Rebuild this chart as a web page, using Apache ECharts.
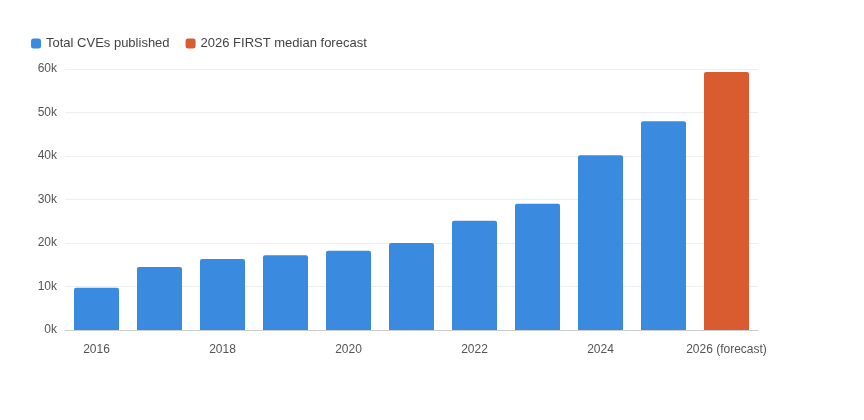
<!DOCTYPE html>
<html><head><meta charset="utf-8">
<script src="https://cdn.jsdelivr.net/npm/echarts@6/dist/echarts.min.js"></script>
<style>html,body{margin:0;padding:0;background:#fff}#c{width:864px;height:420px}</style>
</head><body><div id="c"></div>
<script>
const categories = ['2016','2017','2018','2019','2020','2021','2022','2023','2024','2025','2026 (forecast)'];
const totalCVEs = [9700,14500,16300,17200,18200,20000,25100,29000,40200,48000,null];
const forecast = [null,null,null,null,null,null,null,null,null,null,59300];
const chart = echarts.init(document.getElementById('c'));
chart.setOption({
  animation:false,
  textStyle:{fontFamily:'Liberation Sans, Arial, sans-serif'},
  legend:{left:26,top:32,itemWidth:10,itemHeight:10,itemGap:16,icon:'roundRect',
    textStyle:{color:'#444',fontSize:13}},
  grid:{left:65,right:106,top:69,bottom:90},
  xAxis:{type:'category',data:categories,
    axisLine:{lineStyle:{color:'#ccc'}},axisTick:{show:false},
    axisLabel:{interval:1,color:'#555',fontSize:12,margin:14}},
  yAxis:{type:'value',min:0,max:60000,interval:10000,
    axisLabel:{color:'#555',fontSize:12,formatter:v=>v===0?'0k':(v/1000)+'k'},
    splitLine:{lineStyle:{color:'#eee'}}},
  series:[
    {name:'Total CVEs published',type:'bar',stack:'a',data:totalCVEs,barWidth:45,
      itemStyle:{color:'#3a8bdf',borderRadius:[2,2,0,0]}},
    {name:'2026 FIRST median forecast',type:'bar',stack:'a',data:forecast,barWidth:45,
      itemStyle:{color:'#d95b30',borderRadius:[2,2,0,0]}}
  ]
});
</script></body></html>
